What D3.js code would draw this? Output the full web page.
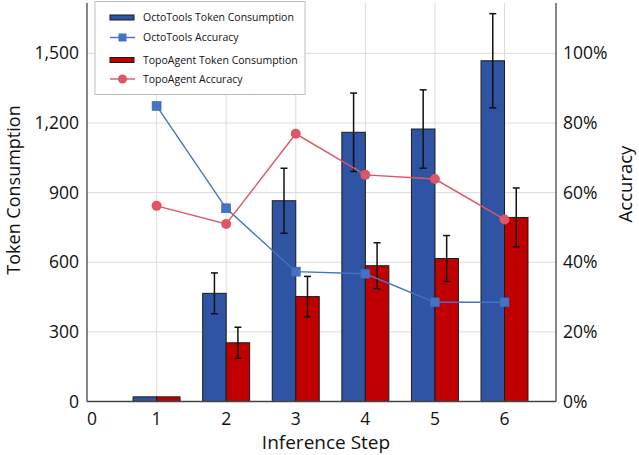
<!DOCTYPE html>
<html>
<head>
<meta charset="utf-8">
<script src="https://cdn.jsdelivr.net/npm/d3@7"></script>
<style>
    body { margin: 0; background: #fff; }
    text { font-family: "Open Sans", "Noto Sans", sans-serif; fill: #111; }
    .grid line { stroke: #dcdcdc; stroke-width: 1; }
    .spine { stroke: #444; stroke-width: 1.3; }
</style>
</head>
<body>
<script>

//chart data
var steps = [1, 2, 3, 4, 5, 6];
var octoTokens = [20, 466, 865, 1160, 1174, 1468];
var octoTokenErr = [0, 88, 140, 169, 169, 203];
var topoTokens = [20, 253, 452, 585, 616, 793];
var topoTokenErr = [0, 67, 87, 99, 99, 127];
var octoAcc = [0.849, 0.555, 0.373, 0.367, 0.285, 0.285];
var topoAcc = [0.562, 0.510, 0.769, 0.651, 0.639, 0.523];
var xTicks = [0, 1, 2, 3, 4, 5, 6];
var tokenTicks = [0, 300, 600, 900, 1200, 1500];
var accTicks = [0, 0.2, 0.4, 0.6, 0.8, 1.0];
var legendNames = ["OctoTools Token Consumption", "OctoTools Accuracy", "TopoAgent Token Consumption", "TopoAgent Accuracy"];

window.onload = drawChart();

function drawChart(){

    var width = 639,
        height = 455;

    var blue = "#2E54A3",
        red = "#C00000",
        blueLine = "#4472C4",
        redLine = "#E05565";

    var svg = d3.select("body")
        .append("svg")
        .attr("width", width)
        .attr("height", height);

    //scales
    var x = d3.scaleLinear()
        .domain([0, 6.74])
        .range([87, 556]);

    var y = d3.scaleLinear()
        .domain([0, 1717])
        .range([401.5, 3]);

    var yAcc = d3.scaleLinear()
        .domain([0, 1.1447])
        .range([401.5, 3]);

    var barW = x(0.3375) - x(0);

    //gridlines
    var grid = svg.append("g").attr("class", "grid");
    grid.selectAll(".hgrid")
        .data(tokenTicks.slice(1))
        .enter()
        .append("line")
        .attr("x1", x.range()[0])
        .attr("x2", x.range()[1])
        .attr("y1", function(d){ return y(d); })
        .attr("y2", function(d){ return y(d); });
    grid.selectAll(".vgrid")
        .data(xTicks.slice(1))
        .enter()
        .append("line")
        .attr("x1", function(d){ return x(d); })
        .attr("x2", function(d){ return x(d); })
        .attr("y1", y.range()[0])
        .attr("y2", y.range()[1]);

    //bars
    var bars = svg.append("g");
    bars.selectAll(".octoBar")
        .data(steps)
        .enter()
        .append("rect")
        .attr("x", function(d){ return x(d) - barW; })
        .attr("y", function(d, i){ return y(octoTokens[i]); })
        .attr("width", barW)
        .attr("height", function(d, i){ return y(0) - y(octoTokens[i]); })
        .attr("fill", blue)
        .attr("stroke", "#1b1b1b")
        .attr("stroke-width", 1);
    bars.selectAll(".topoBar")
        .data(steps)
        .enter()
        .append("rect")
        .attr("x", function(d){ return x(d); })
        .attr("y", function(d, i){ return y(topoTokens[i]); })
        .attr("width", barW)
        .attr("height", function(d, i){ return y(0) - y(topoTokens[i]); })
        .attr("fill", red)
        .attr("stroke", "#1b1b1b")
        .attr("stroke-width", 1);

    //error bars
    var errData = [];
    steps.forEach(function(s, i){
        if (octoTokenErr[i] > 0) errData.push({cx: x(s) - barW / 2, v: octoTokens[i], e: octoTokenErr[i]});
        if (topoTokenErr[i] > 0) errData.push({cx: x(s) + barW / 2, v: topoTokens[i], e: topoTokenErr[i]});
    });
    var err = svg.append("g")
        .attr("stroke", "#111")
        .attr("stroke-width", 1.5);
    err.selectAll(".errV")
        .data(errData)
        .enter()
        .append("line")
        .attr("x1", function(d){ return d.cx; })
        .attr("x2", function(d){ return d.cx; })
        .attr("y1", function(d){ return y(d.v - d.e); })
        .attr("y2", function(d){ return y(d.v + d.e); });
    [-1, 1].forEach(function(sign){
        err.selectAll(".cap" + sign)
            .data(errData)
            .enter()
            .append("line")
            .attr("x1", function(d){ return d.cx - 3.5; })
            .attr("x2", function(d){ return d.cx + 3.5; })
            .attr("y1", function(d){ return y(d.v + sign * d.e); })
            .attr("y2", function(d){ return y(d.v + sign * d.e); });
    });

    //accuracy lines
    var line = d3.line()
        .x(function(d, i){ return x(steps[i]); })
        .y(function(d){ return yAcc(d); });

    svg.append("path")
        .datum(octoAcc)
        .attr("d", line)
        .attr("fill", "none")
        .attr("stroke", blueLine)
        .attr("stroke-width", 1.4);
    svg.selectAll(".octoMark")
        .data(octoAcc)
        .enter()
        .append("rect")
        .attr("x", function(d, i){ return x(steps[i]) - 4.5; })
        .attr("y", function(d){ return yAcc(d) - 4.5; })
        .attr("width", 9)
        .attr("height", 9)
        .attr("fill", blueLine)
        .attr("stroke", "#3a63b0")
        .attr("stroke-width", 0.6);

    svg.append("path")
        .datum(topoAcc)
        .attr("d", line)
        .attr("fill", "none")
        .attr("stroke", redLine)
        .attr("stroke-width", 1.4);
    svg.selectAll(".topoMark")
        .data(topoAcc)
        .enter()
        .append("circle")
        .attr("cx", function(d, i){ return x(steps[i]); })
        .attr("cy", function(d){ return yAcc(d); })
        .attr("r", 5)
        .attr("fill", redLine);

    //spines
    svg.append("line").attr("class", "spine")
        .attr("x1", x.range()[0]).attr("x2", x.range()[0])
        .attr("y1", y.range()[1]).attr("y2", y.range()[0]);
    svg.append("line").attr("class", "spine")
        .attr("x1", x.range()[1]).attr("x2", x.range()[1])
        .attr("y1", y.range()[1]).attr("y2", y.range()[0]);
    svg.append("line").attr("class", "spine")
        .attr("x1", x.range()[0]).attr("x2", x.range()[1])
        .attr("y1", y.range()[0]).attr("y2", y.range()[0]);

    //tick labels
    var fmt = d3.format(",");
    svg.selectAll(".yLabel")
        .data(tokenTicks)
        .enter()
        .append("text")
        .attr("x", 79)
        .attr("y", function(d){ return y(d); })
        .attr("dy", "0.35em")
        .attr("text-anchor", "end")
        .style("font-size", "17.5px")
        .text(function(d){ return fmt(d); });

    svg.selectAll(".accLabel")
        .data(accTicks)
        .enter()
        .append("text")
        .attr("x", 563)
        .attr("y", function(d){ return yAcc(d); })
        .attr("dy", "0.35em")
        .style("font-size", "17.5px")
        .text(function(d){ return d3.format(".0%")(d); });

    svg.selectAll(".xLabel")
        .data(xTicks)
        .enter()
        .append("text")
        .attr("x", function(d){ return x(d) + (d === 0 ? 5 : 0); })
        .attr("y", 419)
        .attr("dy", "0.35em")
        .attr("text-anchor", "middle")
        .style("font-size", "17.5px")
        .text(function(d){ return d; });

    //axis titles
    svg.append("text")
        .attr("x", 326)
        .attr("y", 442)
        .attr("dy", "0.35em")
        .attr("text-anchor", "middle")
        .style("font-size", "19px")
        .text("Inference Step");
    svg.append("text")
        .attr("transform", "translate(12.5,190) rotate(-90)")
        .attr("dy", "0.4em")
        .attr("text-anchor", "middle")
        .style("font-size", "18px")
        .text("Token Consumption");
    svg.append("text")
        .attr("transform", "translate(626,184) rotate(-90)")
        .attr("dy", "0.35em")
        .attr("text-anchor", "middle")
        .style("font-size", "18.5px")
        .text("Accuracy");

    //legend
    var legendY = [17.5, 37.5, 60, 79];
    var legend = svg.append("g");
    legend.append("rect")
        .attr("x", 95)
        .attr("y", 1.5)
        .attr("width", 210)
        .attr("height", 93)
        .attr("fill", "#fff")
        .attr("stroke", "#bdbdbd")
        .attr("stroke-width", 1);

    var items = legend.selectAll(".item")
        .data(legendNames)
        .enter()
        .append("g")
        .attr("transform", function(d, i){ return "translate(0," + legendY[i] + ")"; });

    items.filter(function(d, i){ return i % 2 === 0; })
        .append("rect")
        .attr("x", 110)
        .attr("y", -2.5)
        .attr("width", 24)
        .attr("height", 5)
        .attr("fill", function(d, i){ return i === 0 ? blue : red; })
        .attr("stroke", "#1b1b1b")
        .attr("stroke-width", 1);

    items.filter(function(d, i){ return i % 2 === 1; })
        .append("line")
        .attr("x1", 110)
        .attr("x2", 135)
        .attr("stroke", function(d, i){ return i === 0 ? blueLine : redLine; })
        .attr("stroke-width", 1.4);

    items.filter(function(d, i){ return i === 1; })
        .append("rect")
        .attr("x", 118.5)
        .attr("y", -4)
        .attr("width", 8)
        .attr("height", 8)
        .attr("fill", blueLine);

    items.filter(function(d, i){ return i === 3; })
        .append("circle")
        .attr("cx", 122.5)
        .attr("r", 4.5)
        .attr("fill", redLine);

    items.append("text")
        .attr("x", 143)
        .attr("dy", "0.35em")
        .style("font-size", "10.5px")
        .text(function(d){ return d; });
}
</script>
</body>
</html>
